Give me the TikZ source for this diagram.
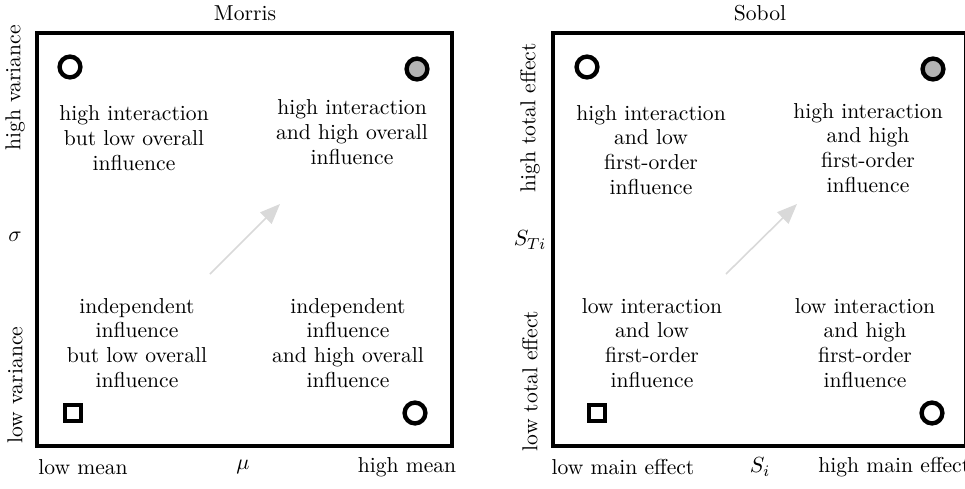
\documentclass[tikz,border=0pt]{standalone}
\usetikzlibrary{arrows.meta}
\definecolor{dotgray}{HTML}{B3B3B3}
\definecolor{arrgray}{HTML}{D9D9D9}
\begin{document}
\begin{tikzpicture}[x=0.5pt,y=-0.5pt,
  font=\fontsize{10.8}{12.4}\selectfont,
  panel/.style={line width=2pt},
  ring/.style={circle,draw,line width=2.2pt,minimum size=10.4pt,inner sep=0pt},
  grayring/.style={ring,fill=dotgray},
  sq/.style={rectangle,draw,line width=2.2pt,minimum size=8pt,inner sep=0pt},
  qtext/.style={align=center,inner sep=0pt},
  axlab/.style={inner sep=0pt},
  trend/.style={draw=arrgray,line width=0.8pt,-{Triangle[length=10pt,width=8pt]}}
]
\useasboundingbox (0,0) rectangle (965,488);
% panels
\draw[panel] (37,33) rectangle (452,446);
\draw[panel] (553,33) rectangle (966,446);
% titles
\node[axlab] (tm) at (245,13) {Morris};
\node[axlab] (ts) at (760,13) {Sobol};
% Morris markers
\node[ring] (m1) at (70,67) {};
\node[grayring] (m2) at (417,69) {};
\node[sq] (m3) at (73,413) {};
\node[ring] (m4) at (415,413) {};
% Sobol markers
\node[ring] (s1) at (587,67) {};
\node[grayring] (s2) at (933,69) {};
\node[sq] (s3) at (597,413) {};
\node[ring] (s4) at (932,413) {};
% Morris texts
\node[qtext] (mq1) at (134,138) {high interaction\\but low overall\\influence};
\node[qtext] (mq2) at (352,132) {high interaction\\and high overall\\influence};
\node[qtext] (mq3) at (137,343) {independent\\influence\\but low overall\\influence};
\node[qtext] (mq4) at (348,343) {independent\\influence\\and high overall\\influence};
% Sobol texts
\node[qtext] (sq1) at (651,150) {high interaction\\and low\\first-order\\influence};
\node[qtext] (sq2) at (868,148) {high interaction\\and high\\first-order\\influence};
\node[qtext] (sq3) at (652,343) {low interaction\\and low\\first-order\\influence};
\node[qtext] (sq4) at (865,343) {low interaction\\and high\\first-order\\influence};
% Morris axes
\node[axlab,rotate=90] (mhv) at (15,88) {high variance};
\node[axlab] (msig) at (15,237) {$\sigma$};
\node[axlab,rotate=90] (mlv) at (15,385) {low variance};
\node[axlab] (mlm) at (83,467) {low mean};
\node[axlab] (mmu) at (243,467) {$\mu$};
\node[axlab] (mhm) at (407,467) {high mean};
% Sobol axes
\node[axlab,rotate=90] (sht) at (530,118) {high total effect};
\node[axlab] (sst) at (530,240) {$S_{Ti}$};
\node[axlab,rotate=90] (slt) at (530,381) {low total effect};
\node[axlab] (slm) at (623,467) {low main effect};
\node[axlab] (ssi) at (760,467) {$S_i$};
\node[axlab,anchor=west] (shm) at (818,467) {high main effect};
% trend arrows
\coordinate (ma) at (210,274);
\coordinate (mb) at (280,204);
\coordinate (sa) at (726,274);
\coordinate (sb) at (797,204);
\draw[trend] (ma) -- (mb);
\draw[trend] (sa) -- (sb);
\end{tikzpicture}
\end{document}
